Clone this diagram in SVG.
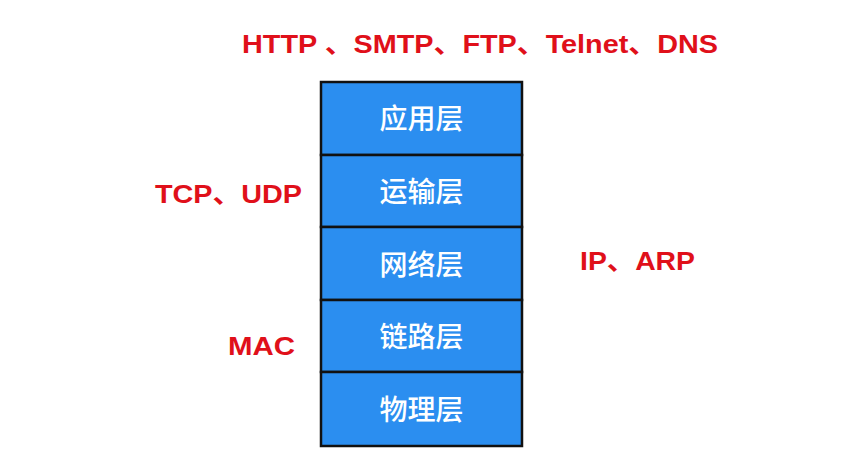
<svg xmlns="http://www.w3.org/2000/svg" width="868" height="468" viewBox="0 0 868 468">
<style>
.layer rect{fill:#2b8ef0;stroke:#111;stroke-width:2.5}
.layer text{fill:#fff;font-family:"Noto Sans CJK SC",sans-serif;font-weight:500;font-size:28px;text-anchor:middle;dominant-baseline:central}
.lbl{fill:#e0101a;font-family:"Liberation Sans","Noto Sans CJK SC",sans-serif;font-weight:bold;font-size:26px}
</style>
<rect width="868" height="468" fill="#fff"/>
<g id="app" class="layer"><rect x="321" y="82" width="201" height="73"/><text x="421.5" y="117">应用层</text></g>
<g id="transport" class="layer"><rect x="321" y="155" width="201" height="72"/><text x="421.5" y="190">运输层</text></g>
<g id="network" class="layer"><rect x="321" y="227" width="201" height="73"/><text x="421.5" y="263">网络层</text></g>
<g id="link" class="layer"><rect x="321" y="300" width="201" height="72"/><text x="421.5" y="335">链路层</text></g>
<g id="physical" class="layer"><rect x="321" y="372" width="201" height="74"/><text x="421.5" y="408">物理层</text></g>
<g id="labels">
<text class="lbl" x="242" y="53" textLength="476" lengthAdjust="spacingAndGlyphs">HTTP 、SMTP、FTP、Telnet、DNS</text>
<text class="lbl" x="155" y="203" textLength="147" lengthAdjust="spacingAndGlyphs">TCP、UDP</text>
<text class="lbl" x="580" y="270" textLength="115" lengthAdjust="spacingAndGlyphs">IP、ARP</text>
<text class="lbl" x="228" y="355" textLength="67" lengthAdjust="spacingAndGlyphs">MAC</text>
</g>
<g id="connectors"></g>
</svg>
